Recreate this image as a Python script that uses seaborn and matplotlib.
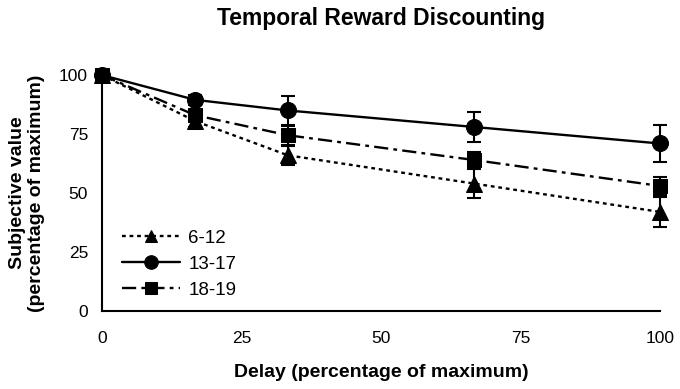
import numpy as np
import pandas as pd
import matplotlib
matplotlib.use("Agg")
import matplotlib.pyplot as plt
import seaborn as sns

# data
delay = [0, 16.7, 33.3, 66.7, 100]
groups = ["6-12", "13-17", "18-19"]
val_6_12 = [100, 80.5, 66, 54, 42]
val_13_17 = [100, 89.5, 85, 78, 71]
val_18_19 = [100, 83, 74.5, 64, 53]
err_6_12 = [0, 2.5, 4, 6, 6.5]
err_13_17 = [0, 2, 6, 6.5, 8]
err_18_19 = [0, 2, 4, 3.5, 4]

df = pd.DataFrame({
    "delay": delay * 3,
    "value": val_6_12 + val_13_17 + val_18_19,
    "err": err_6_12 + err_13_17 + err_18_19,
    "group": np.repeat(groups, len(delay)),
})

sns.set_style("white")
plt.rcParams['font.family'] = ['Liberation Sans', 'DejaVu Sans']
plt.rcParams.update({"text.color": "black", "axes.labelcolor": "black",
                     "xtick.color": "black", "ytick.color": "black"})

fig = plt.figure(figsize=(6.8, 3.89), dpi=100)
ax = fig.add_axes([0.15, 0.2005, 0.8206, 0.6065])

styles = {
    "6-12": dict(ls=(0, (1.6, 1.6)), marker="^", ms=11),
    "13-17": dict(ls="-", marker="o", ms=11.5),
    "18-19": dict(ls=(0, (6, 2.2, 1.6, 2.2)), marker="s", ms=10),
}

for g in groups:
    sub = df[df.group == g]
    st = styles[g]
    ax.errorbar(sub.delay, sub.value, yerr=sub.err, fmt="none", ecolor="black",
                elinewidth=1.5, capsize=5, capthick=1.5, clip_on=False, zorder=2)
    sns.lineplot(data=sub, x="delay", y="value", ax=ax, color="black",
                 linestyle=st["ls"], marker=st["marker"], markersize=st["ms"],
                 markeredgecolor="black", linewidth=1.7, label=g,
                 clip_on=False, zorder=3)

ax.set_xlim(0, 100)
ax.set_ylim(0, 100)
ax.set_xticks([0, 25, 50, 75, 100])
ax.set_yticks([0, 25, 50, 75, 100])
for s in ["top", "right"]:
    ax.spines[s].set_visible(False)
for s in ["left", "bottom"]:
    ax.spines[s].set_linewidth(1.5)
    ax.spines[s].set_color("black")
ax.tick_params(axis="x", direction="inout", length=9, width=1.5, labelsize=12.5, pad=10)
ax.tick_params(axis="y", direction="out", length=5, width=1.5, labelsize=12.5, pad=5)

ax.set_xlabel("Delay (percentage of maximum)", fontsize=14, fontweight="bold", labelpad=13)
ax.set_ylabel("Subjective value\n(percentage of maximum)", fontsize=14, fontweight="bold", labelpad=10)
ax.set_title("Temporal Reward Discounting", fontsize=16.5, fontweight="bold", pad=36)

leg = ax.legend(loc="lower left", bbox_to_anchor=(0.005, -0.02), frameon=False, fontsize=13.5,
                handlelength=3.1, labelspacing=0.48, handletextpad=0.45, markerscale=0.85)

fig.savefig("out.png", dpi=100)
